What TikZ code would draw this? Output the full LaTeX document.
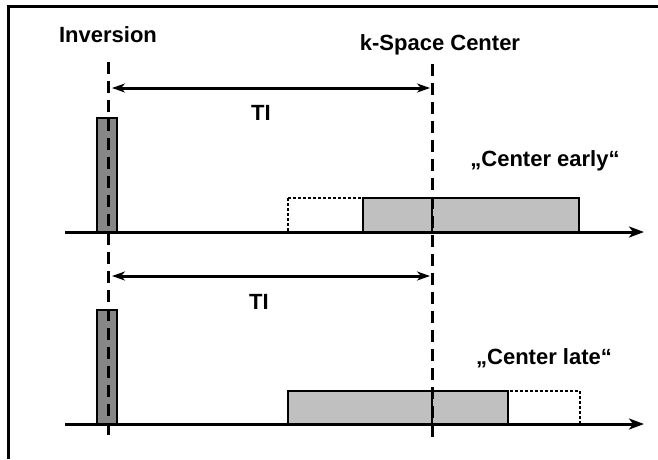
\documentclass[tikz,border=0pt]{standalone}
\usepackage{fontspec}
\setmainfont{Liberation Sans}
\usetikzlibrary{arrows.meta}
\definecolor{pulsegray}{HTML}{878787}
\definecolor{seggray}{HTML}{C0C0C0}
\begin{document}
\begin{tikzpicture}[x=1pt,y=-1pt,
  lbl/.style={font=\bfseries\fontsize{22}{26}\selectfont, inner sep=0pt},
  frame/.style={line width=3pt},
  axis/.style={line width=3pt, -{Stealth[length=15pt,width=11pt,inset=4pt]}},
  tiarrow/.style={line width=3pt, {Stealth[length=13pt,width=9pt,inset=4pt]}-{Stealth[length=13pt,width=9pt,inset=4pt]}},
  vdash/.style={line width=3pt, dash pattern=on 12pt off 7pt},
  pulsebox/.style={draw, line width=2.5pt, fill=pulsegray},
  segbox/.style={draw, line width=2.5pt, fill=seggray},
  ghostbox/.style={draw, line width=1.6pt, dash pattern=on 3pt off 2pt}]
\useasboundingbox (0,0) rectangle (658,459);
% frame
\draw[frame] (8,459) -- (8,6) -- (660,6);
% labels
\node[lbl] (inv) at (108,35) {Inversion};
\node[lbl] (ksc) at (440,45) {k-Space Center};
\node[lbl] (ti1) at (261,113) {TI};
\node[lbl] (ti2) at (259,302) {TI};
\node[lbl] (early) at (545,161) {„Center early“};
\node[lbl] (late) at (544,358) {„Center late“};
% coordinates
\coordinate (invtop) at (108,62);
\coordinate (invbot) at (108,441);
\coordinate (ktop) at (432,64);
\coordinate (kbot) at (432,441);
\coordinate (a1l) at (112,88);
\coordinate (a1r) at (430,88);
\coordinate (a2l) at (112,276);
\coordinate (a2r) at (430,276);
\coordinate (ax1s) at (65,232);
\coordinate (ax1e) at (644,232);
\coordinate (ax2s) at (65,424);
\coordinate (ax2e) at (644,424);
% row 1 boxes
\draw[pulsebox] (97,118) rectangle (117,232);
\draw[ghostbox] (288,198) rectangle (363,232);
\draw[segbox] (363,198) rectangle (579,232);
\draw[line width=2pt] (432,198) -- (432,232);
% row 2 boxes
\draw[pulsebox] (97,310) rectangle (117,424);
\draw[segbox] (288,391) rectangle (508,424);
\draw[ghostbox] (508,391) rectangle (580,424);
\draw[line width=2pt] (432,391) -- (432,424);
% axes
\draw[axis] (ax1s) -- (ax1e);
\draw[axis] (ax2s) -- (ax2e);
% dashed verticals
\draw[vdash] (invtop) -- (invbot);
\draw[vdash] (ktop) -- (kbot);
% TI arrows
\draw[tiarrow] (a1l) -- (a1r);
\draw[tiarrow] (a2l) -- (a2r);
\end{tikzpicture}
\end{document}
